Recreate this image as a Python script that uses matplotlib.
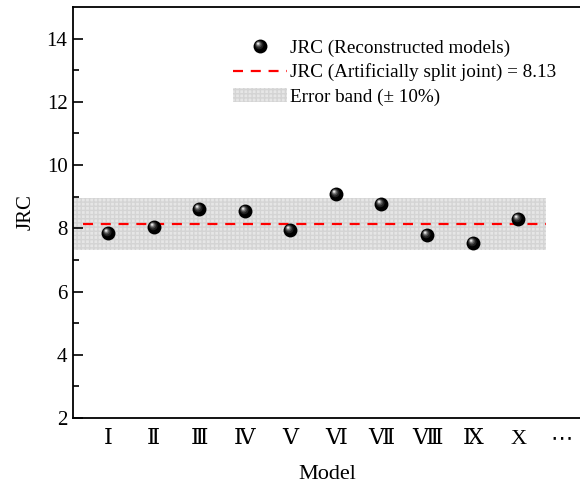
import numpy as np
import matplotlib
matplotlib.use('Agg')
import matplotlib.pyplot as plt
from matplotlib.path import Path
from matplotlib.markers import MarkerStyle
from matplotlib.legend_handler import HandlerTuple
from matplotlib.patches import Patch
from matplotlib.lines import Line2D

plt.rcParams['font.family'] = ['Liberation Serif', 'DejaVu Serif', 'DejaVu Sans', 'Noto Sans CJK SC']

# data
models = ['Ⅰ', 'Ⅱ', 'Ⅲ', 'Ⅳ', 'Ⅴ', 'Ⅵ', 'Ⅶ', 'Ⅷ', 'Ⅸ', 'X', '⋯']
jrc = [7.85, 8.05, 8.61, 8.56, 7.94, 9.08, 8.77, 7.80, 7.52, 8.30]
jrc_split = 8.13
band = 0.10

x = np.arange(1, len(jrc) + 1)


def sphere_layer(cx, cy, r):
    # circle offset inside a unit box so marker scaling stays the same
    c = Path.circle((cx, cy), r)
    verts = np.vstack([[[1, 1], [-1, -1]], c.vertices])
    codes = np.concatenate([[Path.MOVETO, Path.MOVETO], c.codes])
    return MarkerStyle(Path(verts, codes))


layers = [
    (0.0, 0.0, 1.0, '#000000'),
    (-0.18, 0.22, 0.62, '#202020'),
    (-0.25, 0.30, 0.45, '#4a4a4a'),
    (-0.30, 0.36, 0.32, '#808080'),
    (-0.33, 0.40, 0.20, '#c0c0c0'),
    (-0.35, 0.42, 0.10, '#f4f4f4'),
]

fig = plt.figure(figsize=(5.8, 4.83), dpi=100)
ax = fig.add_axes([73 / 580, 65 / 483, 509 / 580, 411 / 483])

x_left, x_right = 0.23, 11.4
ax.fill_between([x_left, 10.6], jrc_split * (1 - band), jrc_split * (1 + band),
                facecolor='#e6e6e6', edgecolor='#d4d4d4', hatch='++++', linewidth=0, zorder=1)
ax.plot([0.45, 10.6], [jrc_split, jrc_split], color='red', lw=1.6, dashes=(4.5, 3.5), zorder=2)

ms = 10
sphere_handles = []
for cx, cy, r, col in layers:
    mk = sphere_layer(cx, cy, r)
    h, = ax.plot(x, jrc, ls='none', marker=mk, ms=ms, mfc=col, mec='none', zorder=3)
    sphere_handles.append(h)

ax.set_xlim(x_left, x_right)
ax.set_ylim(2, 15)
ax.set_yticks(range(2, 15, 2))
ax.set_yticks(range(3, 15, 2), minor=True)
ax.set_xticks(list(x) + [10.95])
ax.set_xticklabels(models)
ax.tick_params(axis='x', length=0, pad=9, labelsize=16)
ax.tick_params(axis='y', which='major', direction='in', length=7, width=1.2, labelsize=15, pad=4)
ax.tick_params(axis='y', which='minor', direction='in', length=4, width=1.2)
for s in ['left', 'bottom', 'top']:
    ax.spines[s].set_linewidth(1.3)
ax.spines['right'].set_visible(False)

ax.set_xlabel('Model', fontsize=16, labelpad=11)
ax.set_ylabel('JRC', fontsize=15, labelpad=8)

line_handle = Line2D([], [], color='red', lw=1.6, dashes=(4.5, 3.5))
band_handle = Patch(facecolor='#e6e6e6', edgecolor='#d4d4d4', hatch='++++', linewidth=0)
ax.legend([tuple(sphere_handles), line_handle, band_handle],
          ['JRC (Reconstructed models)', 'JRC (Artificially split joint) = 8.13', 'Error band (± 10%)'],
          handler_map={tuple: HandlerTuple(ndivide=1)},
          loc='upper left', bbox_to_anchor=(0.30, 0.94), frameon=False, fontsize=13.8,
          handlelength=2.8, handletextpad=0.15, labelspacing=0.35, borderaxespad=0)

fig.savefig('out.png', dpi=100)
